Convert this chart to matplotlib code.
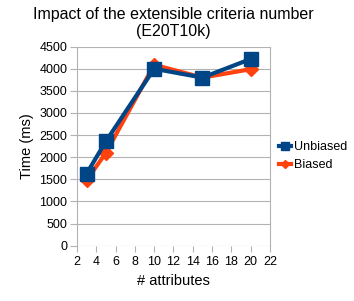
import matplotlib
matplotlib.use("Agg")
import matplotlib.pyplot as plt

plt.rcParams['font.family'] = ['Liberation Sans', 'DejaVu Sans']

attributes = [3, 5, 10, 15, 20]
unbiased = [1630, 2360, 4000, 3800, 4220]
biased = [1480, 2100, 4090, 3800, 3990]
xticks = list(range(2, 23, 2))
yticks = list(range(0, 4501, 500))

fig = plt.figure(figsize=(3.54, 3.01), dpi=100)
ax = fig.add_axes([0.2175, 0.184, 0.545, 0.661])

ax.plot(attributes, biased, color='#ff420e', lw=3, marker='D', markersize=7,
        label='Biased', zorder=3)
ax.plot(attributes, unbiased, color='#004586', lw=3, marker='s', markersize=10,
        label='Unbiased', zorder=4)

ax.set_xlim(2, 22)
ax.set_ylim(0, 4500)
ax.set_xticks(xticks)
ax.set_yticks(yticks)
ax.yaxis.grid(True, color='#b3b3b3', lw=0.8)
ax.set_axisbelow(True)
for s in ['top', 'bottom']:
    ax.spines[s].set_visible(False)
for s in ['left', 'right']:
    ax.spines[s].set_color('#b3b3b3')
    ax.spines[s].set_linewidth(0.8)
ax.tick_params(axis='both', colors='#b3b3b3', labelcolor='black', labelsize=9,
               length=4, width=0.8)
ax.tick_params(axis='y', length=5, pad=2)
ax.set_xlabel('# attributes', fontsize=10.5)
ax.set_ylabel('Time (ms)', fontsize=10.5)
ax.set_title('Impact of the extensible criteria number\n(E20T10k)', fontsize=11.5, pad=8,
             linespacing=1.1)

handles, labels = ax.get_legend_handles_labels()
ax.legend(handles[::-1], labels[::-1], loc='center left', bbox_to_anchor=(1.04, 0.45),
          frameon=False, fontsize=9, handlelength=1.0, handletextpad=0.2,
          borderaxespad=0.0, borderpad=0.1, labelspacing=0.5, markerscale=0.6)

fig.savefig('out.png', dpi=100)
